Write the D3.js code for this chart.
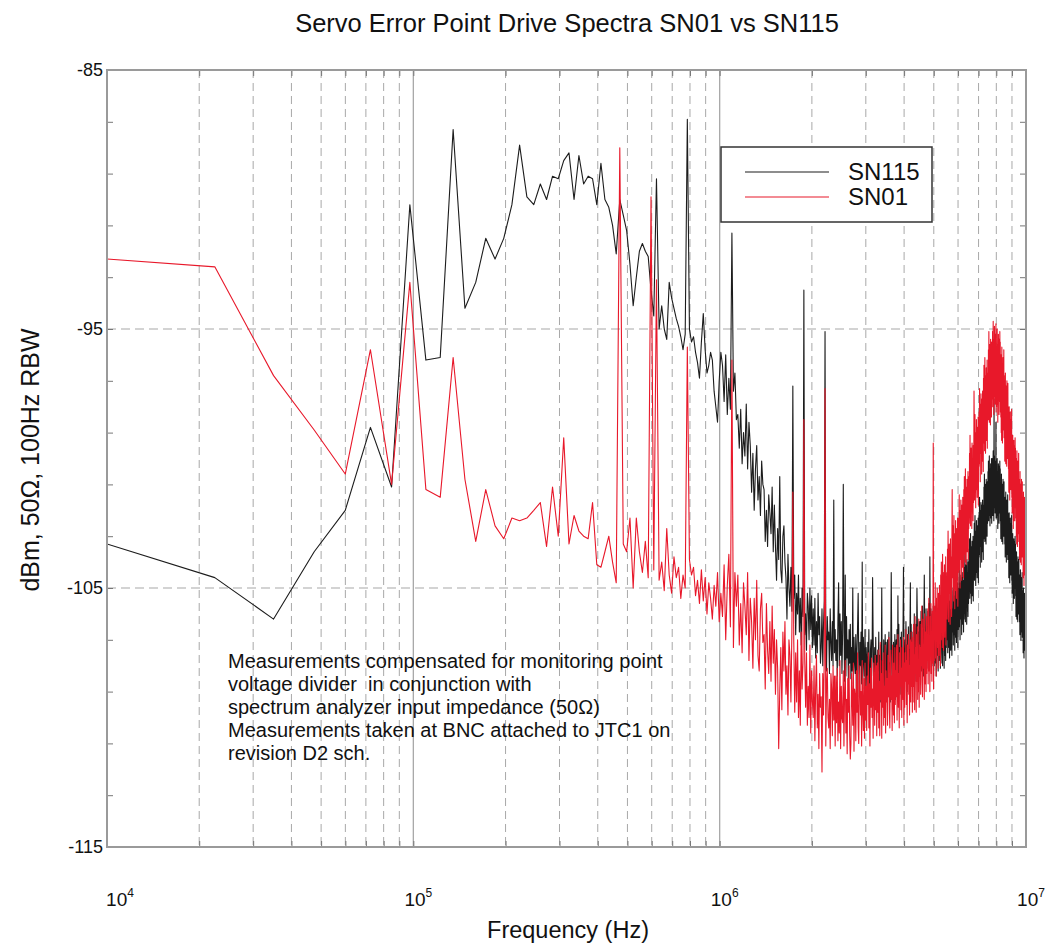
<!DOCTYPE html>
<html><head><meta charset="utf-8">
<script src="https://cdn.jsdelivr.net/npm/d3@7"></script>
<style>body{margin:0;background:#fff}svg{display:block}text{font-family:"Liberation Sans",Arial,sans-serif;fill:#111}</style>
</head><body><svg id="c" width="1045" height="945"></svg>
<script>
const chartTitle = "Servo Error Point Drive Spectra SN01 vs SN115";
const xLabel = "Frequency (Hz)";
const yLabel = "dBm, 50\u03A9, 100Hz RBW";
const seriesNames = ["SN115", "SN01"];
const sweepStart = 1e4, sweepStop = 1e7, sweepPoints = 801;
const xDecades = [1e4, 1e5, 1e6, 1e7];
const xDecadeExp = ["4", "5", "6", "7"];
const yTickValues = [-115, -105, -95, -85];
const noteLines = [
  "Measurements compensated for monitoring point",
  "voltage divider  in conjunction with",
  "spectrum analyzer input impedance (50\u03A9)",
  "Measurements taken at BNC attached to JTC1 on",
  "revision D2 sch."
];

const sn115 = [
-103.3,-104.6,-106.2,-103.6,-102.0,-98.8,-101.1,-90.2,-96.2,-96.1,
-87.3,-94.2,-93.2,-91.5,-92.3,-91.5,-90.2,-87.9,-89.9,-90.2,
-89.4,-90.0,-89.1,-89.2,-88.5,-88.2,-90.0,-88.3,-89.4,-89.1,
-89.2,-90.2,-88.6,-90.0,-90.3,-91.0,-92.1,-90.0,-90.6,-91.2,
-92.5,-94.1,-93.0,-92.0,-91.7,-92.0,-92.2,-93.5,-94.5,-89.2,
-95.0,-94.1,-95.0,-95.4,-93.2,-93.8,-94.2,-94.6,-94.9,-95.3,
-95.8,-95.2,-86.9,-95.0,-95.5,-95.3,-95.9,-96.3,-96.9,-95.5,
-94.4,-95.8,-96.7,-96.4,-95.9,-96.2,-97.4,-98.0,-98.6,-97.0,
-95.9,
-96.4,-97.8,-96.0,-98.3,-96.9,-98.1,-91.3,-97.4,-96.7,-98.5,
-98.3,-99.6,-98.1,-100.2,-99.0,-99.9,-97.9,-100.4,-98.6,-99.5,
-101.3,-99.8,-102.0,-100.4,-99.5,-101.6,-100.7,-102.2,-100.1,-101.0,
-101.2,-103.2,-102.0,-103.4,-101.4,-102.1,-102.9,-101.1,-103.6,-101.8,
-103.4,-104.7,-102.7,-103.9,-100.7,-104.3,-104.8,-103.0,-102.6,-104.0,
-104.6,-106.2,-103.7,-105.0,-105.7,-104.2,-105.9,-97.2,-105.4,-104.5,
-106.8,-105.2,-106.0,-104.5,-106.7,-105.4,-107.2,-105.0,-106.1,-93.5,
-106.8,-106.0,-107.4,-105.2,-105.7,-107.0,-105.0,-106.6,-105.3,-107.3,
-105.8,-107.2,-105.4,-107.7,-106.3,-107.5,-105.2,-106.8,-106.1,-107.9,
-107.3,-105.8,-108.0,-106.4,-105.5,-95.1,-106.7,-108.2,-106.1,-107.0,
-106.7,-108.3,-105.8,-107.1,-107.8,-106.3,-108.0,-101.6,-107.5,-106.6,
-107.8,-107.0,-108.4,-106.2,-104.8,-108.0,-106.0,-107.6,-106.3,-108.3,
-106.7,-101.0,-106.3,-108.6,-104.5,-108.4,-106.1,-107.7,-107.0,-108.8,-106.6,-107.9,-106.4,-108.5,-107.3,-108.2,-105.0,-108.7,-106.9,-107.8,
-108.3,-106.8,-109.0,-107.4,-106.5,-105.2,-107.7,-109.2,-107.1,-108.0,-106.7,-108.7,-104.0,-108.9,-106.9,-107.6,-108.4,-106.6,-109.1,-107.3,
-107.8,-109.1,-107.1,-108.3,-106.6,-108.7,-109.2,-107.4,-107.0,-108.4,-107.7,-104.6,-106.8,-108.1,-108.8,-107.3,-109.0,-106.9,-108.5,-107.6,
-109.0,-107.4,-108.2,-106.7,-108.9,-107.6,-109.4,-107.2,-108.3,-105.0,-108.6,-107.8,-109.2,-107.0,-107.5,-108.8,-106.8,-108.4,-107.1,-109.1,
-108.5,-107.0,-109.2,-107.6,-106.7,-108.8,-107.9,-109.4,-107.3,-104.4,-106.9,-108.9,-107.7,-109.1,-107.1,-107.8,-108.6,-106.8,-109.3,-107.5,
-107.0,-108.4,-106.6,-108.9,-105.3,-108.7,-106.4,-108.0,-107.3,-109.1,-106.9,-108.2,-106.7,-108.8,-107.6,-108.5,-106.5,-104.2,-107.2,-108.1,
-108.6,-107.0,-107.8,-106.3,-108.5,-107.2,-109.0,-106.8,-107.9,-106.5,-108.2,-107.4,-108.8,-106.6,-104.8,-108.4,-106.4,-108.0,-106.7,-108.7,
-107.2,-108.5,-106.5,-107.7,-106.0,-108.1,-108.6,-106.8,-106.4,-107.8,-107.1,-105.0,-106.2,-107.5,-108.2,-106.7,-108.4,-106.3,-107.9,-107.0,
-106.3,-107.7,-105.9,-108.2,-106.8,-108.0,-105.7,-107.3,-106.6,-108.4,-106.2,-104.5,-106.0,-108.1,-106.9,-107.8,-105.8,-108.3,-106.5,-107.4,
-107.4,-105.9,-108.1,-106.5,-105.6,-107.7,-106.8,-103.8,-106.2,-107.1,-105.8,-107.8,-106.6,-108.0,-106.0,-106.7,-107.5,-105.7,-108.2,-106.4,
-108.0,-106.4,-107.2,-105.7,-107.9,-106.6,-108.4,-106.2,-107.3,-105.9,-107.6,-106.8,-108.2,-106.0,-106.5,-107.8,-105.8,-107.4,-106.1,-108.1,
-106.6,-107.9,-105.9,-107.1,-105.4,-107.5,-108.0,-106.2,-105.8,-107.2,-106.5,-108.1,-105.6,-106.9,-107.6,-106.1,-107.8,-105.7,-107.3,-106.4,
-105.6,-107.0,-105.2,-107.5,-106.1,-107.3,-105.0,-106.6,-105.9,-107.7,-105.5,-106.8,-105.3,-107.4,-106.2,-107.1,-105.1,-107.6,-105.8,-106.7,
-106.5,-105.0,-107.2,-105.6,-104.7,-106.8,-105.9,-107.4,-105.3,-106.2,-104.9,-106.9,-105.7,-107.1,-105.1,-105.8,-106.6,-104.8,-107.3,-105.5,
-106.6,-105.0,-105.8,-104.3,-106.5,-105.2,-107.0,-104.8,-105.9,-104.5,-106.2,-105.4,-106.8,-104.6,-105.1,-106.4,-104.4,-106.0,-104.7,-106.7,
-104.9,-106.2,-104.2,-105.4,-103.7,-105.8,-106.3,-104.5,-104.1,-105.5,-104.8,-106.4,-103.9,-105.2,-105.9,-104.4,-106.1,-104.0,-105.6,-104.7,
-103.5,-104.9,-103.1,-105.4,-104.0,-105.2,-102.9,-104.5,-103.8,-105.6,-103.4,-104.7,-103.2,-105.3,-104.1,-105.0,-103.0,-105.5,-103.7,-104.6,
-104.0,-102.5,-104.7,-103.1,-102.2,-104.3,-103.4,-104.9,-102.8,-103.7,-102.4,-104.4,-103.2,-104.6,-102.6,-103.3,-104.1,-102.3,-104.8,-103.0,
-103.8,-102.2,-103.0,-101.5,-103.7,-102.4,-104.2,-102.0,-103.1,-101.7,-103.4,-102.6,-104.0,-101.8,-102.3,-103.6,-101.6,-103.2,-101.9,-103.9,
-101.8,-103.1,-101.1,-102.3,-100.6,-102.7,-103.2,-101.4,-101.0,-102.4,-101.7,-103.3,-100.8,-102.1,-102.8,-101.3,-103.0,-100.9,-102.5,-101.6,
-100.5,-101.9,-100.1,-102.4,-101.0,-102.2,-99.9,-101.5,-100.8,-102.6,-100.4,-101.7,-100.2,-102.3,-101.1,-102.0,-100.0,-102.5,-100.7,-101.6,
-101.5,-100.0,-102.2,-100.6,-99.7,-101.8,-100.9,-102.4,-97.7,-101.2,-99.9,-101.9,-100.7,-102.1,-100.1,-100.8,-101.6,-98.6,-102.3,-100.5,
-102.3,-100.7,-101.5,-100.0,-102.2,-100.9,-102.7,-100.5,-101.6,-100.2,-101.9,-101.1,-102.5,-100.3,-100.8,-102.1,-100.1,-101.7,-100.4,-102.4,
-101.8,-103.1,-101.1,-102.3,-100.6,-102.7,-103.2,-101.4,-101.0,-102.4,-101.7,-103.3,-100.8,-102.1,-102.8,-101.3,-103.0,-100.9,-102.5,-101.6,
-101.9,-103.3,-101.5,-103.8,-102.4,-103.6,-101.3,-102.9,-102.2,-104.0,-101.8,-103.1,-101.6,-103.7,-102.5,-103.4,-101.4,-103.9,-102.1,-103.0,
-103.9,-102.4,-104.6,-103.0,-102.1,-104.2,-103.3,-104.8,-102.7,-103.6,-102.3,-104.3,-103.1,-104.5,-102.5,-103.2,-104.0,-102.2,-104.7,-102.9,
-105.2,-103.6,-104.4,-102.9,-105.1,-103.8,-105.6,-103.4,-104.5,-103.1,-104.8,-104.0,-105.4,-103.2,-103.7,-105.0,-103.0,-104.6,-103.3,-105.3,
-104.8,-106.1,-104.1,-105.3,-103.6,-105.7,-106.2,-104.4,-104.0,-105.4,-104.7,-106.3,-103.8,-105.1,-105.8,-104.3,-106.0,-103.9,-105.5,-104.6,
-104.9,-106.3,-104.5,-106.8,-105.4,-106.6,-104.3,-105.9,-105.2,-107.0,-104.8,-106.1,-104.6,-106.7,-105.5,-106.4,-104.4,-106.9,-105.1,-106.0,
-106.8,-105.3,-107.5,-105.9,-105.0,-107.1,-106.2,-107.7,-105.6,-106.5,-105.2,-107.2,-106.0,-107.4,-105.4,-106.1,-106.9,-105.1,-107.6,-106.9
];

const sn01 = [
-92.3,-92.6,-96.8,-98.9,-100.6,-95.8,-101.0,-93.2,-101.2,-101.5,
-96.1,-100.8,-103.2,-101.2,-102.6,-103.1,-102.3,-102.4,-102.3,-102.0,
-101.7,-103.4,-101.1,-103.0,-99.2,-103.3,-102.2,-102.8,-103.0,-103.1,
-101.7,-104.1,-104.2,-103.6,-103.0,-104.0,-104.8,-88.0,-103.3,-103.6,
-102.3,-105.0,-102.3,-103.6,-104.4,-103.2,-104.6,-89.9,-104.3,-93.1,
-104.7,-104.0,-105.1,-102.7,-104.5,-105.2,-103.8,-104.6,-104.2,-105.4,
-104.5,-105.0,-95.7,-103.9,-104.5,-104.2,-105.3,-104.7,-105.6,-104.3,
-105.5,-104.6,-106.0,-104.8,-105.4,-106.2,-104.9,-105.7,-104.4,-106.3,
-105.2,
-106.1,-104.1,-107.0,-104.9,-103.7,-106.5,-96.2,-107.3,-104.4,-105.7,
-104.5,-107.2,-105.6,-107.5,-104.8,-105.7,-106.8,-104.4,-107.8,-105.4,
-106.3,-108.1,-105.4,-107.0,-104.7,-107.6,-108.2,-105.8,-105.2,-107.1,
-106.8,-108.9,-105.6,-107.4,-108.3,-106.3,-108.6,-105.7,-107.9,-106.6,
-109.1,-107.0,-108.1,-111.2,-109.0,-107.3,-109.7,-106.7,-108.2,-106.3,
-109.1,-108.0,-109.9,-107.0,-107.6,-109.4,-106.7,-101.3,-107.1,-109.8,
-107.5,-109.4,-107.0,-110.0,-108.2,-110.3,-106.7,-108.9,-107.9,-98.5,
-107.8,-109.6,-107.5,-110.3,-108.8,-110.0,-107.2,-110.6,-108.2,-109.4,
-110.0,-108.0,-110.9,-108.8,-107.6,-110.4,-109.1,-111.2,-108.3,-109.6,
-109.2,-112.1,-108.3,-109.9,-107.6,-97.3,-111.1,-108.7,-108.1,-110.0,
-110.4,-109.3,-111.2,-108.3,-108.9,-110.7,-108.0,-110.1,-108.4,-111.1,
-108.4,-110.2,-108.1,-110.9,-109.4,-110.6,-107.8,-111.2,-108.8,-110.0,
-110.2,-108.2,-111.1,-109.0,-107.8,-110.6,-109.3,-111.4,-108.5,-109.8,-108.0,-110.7,-111.6,-111.0,-108.3,-109.2,-110.3,-107.9,-111.3,-108.9,
-109.1,-110.9,-108.2,-109.8,-107.5,-110.4,-111.0,-108.6,-108.0,-109.9,-109.0,-111.1,-107.8,-109.6,-110.5,-108.5,-110.8,-107.9,-110.1,-108.8,
-110.5,-108.4,-109.5,-107.5,-110.4,-108.7,-111.1,-108.1,-109.6,-107.7,-110.0,-108.9,-110.8,-107.9,-108.5,-110.3,-107.6,-109.7,-108.0,-110.7,
-107.9,-109.8,-107.4,-110.4,-108.6,-110.7,-107.1,-109.3,-108.3,-110.8,-107.8,-109.6,-107.5,-110.3,-108.8,-110.0,-107.2,-110.6,-108.2,-109.4,
-108.5,-110.3,-107.6,-109.2,-106.9,-109.8,-110.4,-108.0,-107.4,-109.3,-108.4,-110.5,-107.2,-109.0,-109.9,-107.9,-110.2,-107.3,-109.5,-108.2,
-109.2,-107.2,-110.1,-108.0,-106.8,-109.6,-108.3,-110.4,-107.5,-108.8,-107.0,-109.7,-108.1,-110.0,-107.3,-108.2,-109.3,-106.9,-110.3,-107.9,
-109.6,-107.5,-108.6,-106.6,-109.5,-107.8,-110.2,-107.2,-108.7,-106.8,-109.1,-108.0,-109.9,-107.0,-107.6,-109.4,-106.7,-108.8,-107.1,-109.8,
-106.9,-108.8,-106.4,-109.4,-107.6,-109.7,-106.1,-108.3,-107.3,-109.8,-106.8,-108.6,-106.5,-109.3,-107.8,-109.0,-106.2,-109.6,-107.2,-108.4,
-107.3,-109.1,-106.4,-108.0,-105.7,-108.6,-109.2,-106.8,-106.2,-108.1,-107.2,-109.3,-106.0,-107.8,-108.7,-106.7,-109.0,-106.1,-108.3,-107.0,
-107.8,-105.8,-108.7,-106.6,-105.4,-108.2,-106.9,-109.0,-106.1,-107.4,-105.6,-108.3,-106.7,-108.6,-105.9,-106.8,-107.9,-99.4,-108.9,-106.5,
-107.8,-105.7,-106.8,-104.8,-107.7,-106.0,-108.4,-105.4,-106.9,-105.0,-107.3,-106.2,-108.1,-105.2,-105.8,-107.6,-104.9,-107.0,-105.3,-108.0,
-104.5,-106.4,-104.0,-107.0,-105.2,-107.3,-103.7,-105.9,-104.9,-107.4,-104.4,-106.2,-104.1,-106.9,-105.4,-106.6,-103.8,-107.2,-104.8,-106.0,
-104.4,-106.2,-103.5,-105.1,-102.8,-105.7,-106.3,-103.9,-103.3,-105.2,-104.3,-106.4,-103.1,-104.9,-105.8,-103.8,-106.1,-103.2,-101.2,-104.1,
-104.6,-102.6,-105.5,-103.4,-102.2,-105.0,-103.7,-105.8,-102.9,-104.2,-102.4,-105.1,-103.5,-105.4,-102.7,-103.6,-104.7,-102.3,-105.7,-103.3,
-104.4,-102.3,-103.4,-101.4,-104.3,-102.6,-105.0,-102.0,-103.5,-101.6,-103.9,-102.8,-104.7,-101.8,-102.4,-104.2,-101.5,-103.6,-101.9,-104.6,
-101.2,-103.1,-100.7,-103.7,-101.9,-104.0,-100.4,-102.6,-101.6,-104.1,-101.1,-102.9,-100.8,-103.6,-102.1,-103.3,-100.5,-103.9,-101.5,-102.7,
-100.7,-102.5,-99.8,-101.4,-99.1,-102.0,-102.6,-100.2,-99.6,-101.5,-100.6,-102.7,-99.4,-101.2,-102.1,-100.1,-102.4,-99.5,-101.7,-100.4,
-97.4,-98.7,-101.6,-99.5,-98.3,-101.1,-99.8,-101.9,-99.0,-100.3,-98.5,-101.2,-99.6,-101.5,-98.8,-99.7,-100.8,-98.4,-101.8,-99.4,
-100.3,-98.2,-99.3,-97.3,-100.2,-98.5,-100.9,-97.9,-99.4,-97.5,-99.8,-98.7,-100.6,-97.7,-98.3,-100.1,-97.4,-99.5,-97.8,-100.5,
-96.9,-98.8,-96.4,-99.4,-97.6,-99.7,-96.1,-98.3,-97.3,-99.8,-96.8,-98.6,-96.5,-99.3,-97.8,-99.0,-96.2,-99.6,-97.2,-98.4,
-96.7,-98.5,-95.8,-97.4,-95.1,-98.0,-98.6,-96.2,-95.6,-97.5,-96.6,-98.7,-95.4,-97.2,-98.1,-96.1,-98.4,-95.5,-97.7,-96.4,
-97.1,-95.1,-98.0,-95.9,-94.7,-97.5,-96.2,-98.3,-95.4,-96.7,-94.9,-97.6,-96.0,-97.9,-95.2,-96.1,-97.2,-94.8,-98.2,-95.8,
-98.0,-95.9,-97.0,-95.0,-97.9,-96.2,-98.6,-95.6,-97.1,-95.2,-97.5,-96.4,-98.3,-95.4,-96.0,-97.8,-95.1,-97.2,-95.5,-98.2,
-96.5,-98.4,-96.0,-99.0,-97.2,-99.3,-95.7,-97.9,-96.9,-99.4,-96.4,-98.2,-96.1,-98.9,-97.4,-98.6,-95.8,-99.2,-96.8,-98.0,
-98.3,-100.1,-97.4,-99.0,-96.7,-99.6,-100.2,-97.8,-97.2,-99.1,-98.2,-100.3,-97.0,-98.8,-99.7,-97.7,-100.0,-97.1,-99.3,-98.0,
-100.4,-98.4,-101.3,-99.2,-98.0,-100.8,-99.5,-101.6,-98.7,-100.0,-98.2,-100.9,-99.3,-101.2,-98.5,-99.4,-100.5,-98.1,-101.5,-99.1,
-102.1,-100.0,-101.1,-99.1,-102.0,-100.3,-102.7,-99.7,-101.2,-99.3,-101.6,-100.5,-102.4,-99.5,-100.1,-101.9,-99.2,-101.3,-99.6,-102.3,
-100.5,-102.4,-100.0,-103.0,-101.2,-103.3,-99.7,-101.9,-100.9,-103.4,-100.4,-102.2,-100.1,-102.9,-101.4,-102.6,-99.8,-103.2,-100.8,-102.0,
-102.1,-103.9,-101.2,-102.8,-100.5,-103.4,-104.0,-101.6,-101.0,-102.9,-102.0,-104.1,-100.8,-102.6,-103.5,-101.5,-103.8,-100.9,-103.1,-101.8,
-103.7,-101.7,-104.6,-102.5,-101.3,-104.1,-102.8,-104.9,-102.0,-103.3,-101.5,-104.2,-102.6,-104.5,-101.8,-102.7,-103.8,-101.4,-104.8,-103.1
];

if (sn115.length !== sweepPoints || sn01.length !== sweepPoints) {
  throw new Error("length mismatch " + sn115.length + " " + sn01.length);
}

const freq = d3.range(sweepPoints).map(i => sweepStart + i * (sweepStop - sweepStart) / (sweepPoints - 1));

const svg = d3.select("#c");
const L = 107, R = 1026, T = 70, B = 847;
const x = d3.scaleLog().domain([sweepStart, sweepStop]).range([L, R]);
const y = d3.scaleLinear().domain([-115, -85]).range([B, T]);

const minorX = [];
xDecades.slice(0, 3).forEach(d => { for (let m = 2; m <= 9; m++) minorX.push(d * m); });
const innerDecades = xDecades.slice(1, 3);
const yMinor = d3.range(-115, -84, 2);

// grid
const grid = svg.append("g");
grid.selectAll("line.vm").data(minorX).join("line")
  .attr("x1", d => x(d)).attr("x2", d => x(d)).attr("y1", T).attr("y2", B)
  .attr("stroke", "#a8a8a8").attr("stroke-width", 1).attr("stroke-dasharray", "8,5");
grid.selectAll("line.vM").data(innerDecades).join("line")
  .attr("x1", d => x(d)).attr("x2", d => x(d)).attr("y1", T).attr("y2", B)
  .attr("stroke", "#a8a8a8").attr("stroke-width", 1.3);
grid.selectAll("line.h").data(yTickValues.slice(1, 3)).join("line")
  .attr("x1", L).attr("x2", R).attr("y1", d => y(d)).attr("y2", d => y(d))
  .attr("stroke", "#a8a8a8").attr("stroke-width", 1.2).attr("stroke-dasharray", "9,5");

// tick marks via d3 axes
const tickStyle = g => { g.select(".domain").remove(); g.selectAll(".tick line").attr("stroke", "#777"); g.selectAll(".tick text").remove(); };
svg.append("g").attr("transform", `translate(0,${B})`)
  .call(d3.axisBottom(x).tickValues(minorX.concat(xDecades)).tickSizeInner(-6).tickSizeOuter(0).tickFormat(""))
  .call(tickStyle);
svg.append("g").attr("transform", `translate(0,${T})`)
  .call(d3.axisTop(x).tickValues(minorX.concat(xDecades)).tickSizeInner(-6).tickSizeOuter(0).tickFormat(""))
  .call(tickStyle);
svg.append("g").attr("transform", `translate(${L},0)`)
  .call(d3.axisLeft(y).tickValues(yMinor).tickSizeInner(-6).tickSizeOuter(0).tickFormat(""))
  .call(tickStyle);
svg.append("g").attr("transform", `translate(${R},0)`)
  .call(d3.axisRight(y).tickValues(yMinor).tickSizeInner(-6).tickSizeOuter(0).tickFormat(""))
  .call(tickStyle);

// clip
svg.append("clipPath").attr("id", "pc").append("rect")
  .attr("x", L).attr("y", T).attr("width", R - L).attr("height", B - T);

const line = d3.line().x((d, i) => x(freq[i])).y(d => y(d));
const plot = svg.append("g").attr("clip-path", "url(#pc)");
plot.append("path").datum(sn115).attr("d", line)
  .attr("fill", "none").attr("stroke", "#1c1c1c").attr("stroke-width", 1.1).attr("stroke-linejoin", "round");
plot.append("path").datum(sn01).attr("d", line)
  .attr("fill", "none").attr("stroke", "#e8182a").attr("stroke-width", 1.1).attr("stroke-linejoin", "round");

// frame
svg.append("rect").attr("x", L).attr("y", T).attr("width", R - L).attr("height", B - T)
  .attr("fill", "none").attr("stroke", "#9a9a9a").attr("stroke-width", 2);

// y tick labels
svg.selectAll("text.yl").data(yTickValues).join("text")
  .attr("x", L - 4).attr("y", d => y(d) + 6)
  .attr("text-anchor", "end").attr("font-size", 18).text(d => d);

// x tick labels
xDecades.forEach((d, k) => {
  const t = svg.append("text").attr("x", Math.max(x(d) + 5, 120)).attr("y", 906)
    .attr("text-anchor", "middle").attr("font-size", 19);
  t.append("tspan").text("10");
  t.append("tspan").attr("dy", -9).attr("font-size", 12).text(xDecadeExp[k]);
});

// titles
svg.append("text").attr("x", 567).attr("y", 32).attr("text-anchor", "middle")
  .attr("font-size", 25.5).text(chartTitle);
svg.append("text").attr("x", 568).attr("y", 938).attr("text-anchor", "middle")
  .attr("font-size", 23.5).text(xLabel);
svg.append("text").attr("transform", "translate(39,460) rotate(-90)").attr("text-anchor", "middle")
  .attr("font-size", 25).text(yLabel);

// note
svg.selectAll("text.note").data(noteLines).join("text")
  .attr("x", 228).attr("y", (d, i) => 668 + i * 23)
  .attr("font-size", 20).attr("xml:space", "preserve").style("white-space", "pre").text(d => d);

// legend
const lg = svg.append("g");
lg.append("rect").attr("x", 721).attr("y", 147).attr("width", 211).attr("height", 75)
  .attr("fill", "#fff").attr("stroke", "#333").attr("stroke-width", 1.5);
const legColors = ["#1c1c1c", "#e8182a"];
seriesNames.forEach((n, i) => {
  lg.append("line").attr("x1", 745).attr("x2", 829).attr("y1", 172 + i * 25).attr("y2", 172 + i * 25)
    .attr("stroke", legColors[i]).attr("stroke-width", 1.2);
  lg.append("text").attr("x", 848).attr("y", 180 + i * 25).attr("font-size", 24).text(n);
});
</script></body></html>
